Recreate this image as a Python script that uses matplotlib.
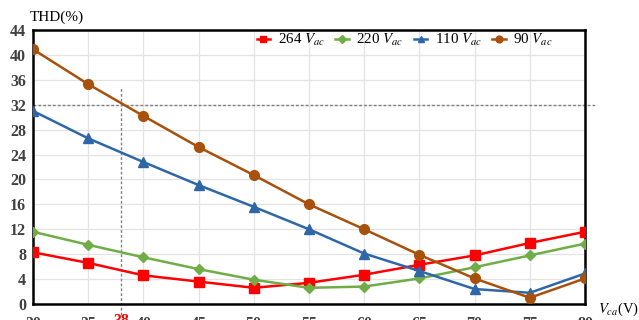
import matplotlib.pyplot as plt

x = [30, 35, 40, 45, 50, 55, 60, 65, 70, 75, 80]
thd_264 = [8.3, 6.6, 4.6, 3.6, 2.6, 3.4, 4.7, 6.3, 7.8, 9.8, 11.6]
thd_220 = [11.6, 9.5, 7.5, 5.6, 3.9, 2.6, 2.8, 4.1, 5.9, 7.8, 9.7]
thd_110 = [31.0, 26.6, 22.8, 19.1, 15.6, 12.0, 8.1, 5.3, 2.4, 1.8, 4.9]
thd_90 = [40.9, 35.3, 30.2, 25.2, 20.7, 16.0, 12.0, 7.9, 4.1, 1.0, 4.1]
labels = ["264 $V_{ac}$", "220 $V_{ac}$", "110 $V_{ac}$", "90 $V_{ac}$"]
colors = ["#ff0000", "#70ad47", "#2e67a8", "#a8510c"]
markers = ["s", "D", "^", "o"]
xticks = [30, 35, 40, 45, 50, 55, 60, 65, 70, 75, 80]
yticks = [0, 4, 8, 12, 16, 20, 24, 28, 32, 36, 40, 44]
thd_limit = 32
vca_point = 38
vline_top = 34.8

plt.rcParams['font.family'] = ['Liberation Serif', 'DejaVu Serif']
plt.rcParams['mathtext.fontset'] = 'stix'

fig = plt.figure(figsize=(6.39, 3.2), dpi=100)
ax = fig.add_axes([33 / 639, 1 - 304 / 320, (585 - 33) / 639, (304 - 30) / 320])

series = [thd_264, thd_220, thd_110, thd_90]
sizes = [7, 5.5, 7, 7]
for ys, lab, c, m, s in zip(series, labels, colors, markers, sizes):
    ax.plot(x, ys, color=c, marker=m, markersize=s, linewidth=1.8, label=lab, zorder=3)

ax.set_xlim(30, 80)
ax.set_ylim(0, 44)
ax.set_xticks(xticks)
ax.set_yticks(yticks)
ax.grid(True, color="#e3e3e3", linewidth=0.9)
ax.set_axisbelow(True)
ax.tick_params(length=0, labelsize=11.5, colors="#404040")
ax.tick_params(axis='x', pad=9)
ax.tick_params(axis='y', pad=5)
for t in ax.get_xticklabels() + ax.get_yticklabels():
    t.set_fontweight('bold')
for sp in ax.spines.values():
    sp.set_color('black')
    sp.set_linewidth(1.8)

# reference lines
ax.plot([30, 81.1], [thd_limit, thd_limit], linestyle=(0, (2, 1.5)), color="#808080",
        linewidth=1, clip_on=False, zorder=2)
ax.plot([vca_point, vca_point], [-1.8, vline_top], linestyle=(0, (2, 1.5)), color="#808080",
        linewidth=1, clip_on=False, zorder=2)
ax.text(vca_point, -1.45, "38", color="red", fontsize=11.5, fontweight='bold',
        ha='center', va='top')

ax.legend(loc='center left', ncol=4, frameon=False, fontsize=10.8, handlelength=0.9,
          handletextpad=0.5, columnspacing=0.7, markerscale=0.7,
          bbox_to_anchor=(0.405, 0.962), borderaxespad=0, borderpad=0)

fig.text(30 / 639, 1 - 17 / 320, "THD(%)", fontsize=11, va='center', ha='left')
fig.text(598 / 639, 1 - 309 / 320, "$V_{ca}$(V)", fontsize=10.5, va='center', ha='left')

fig.savefig("out.png", dpi=100)
